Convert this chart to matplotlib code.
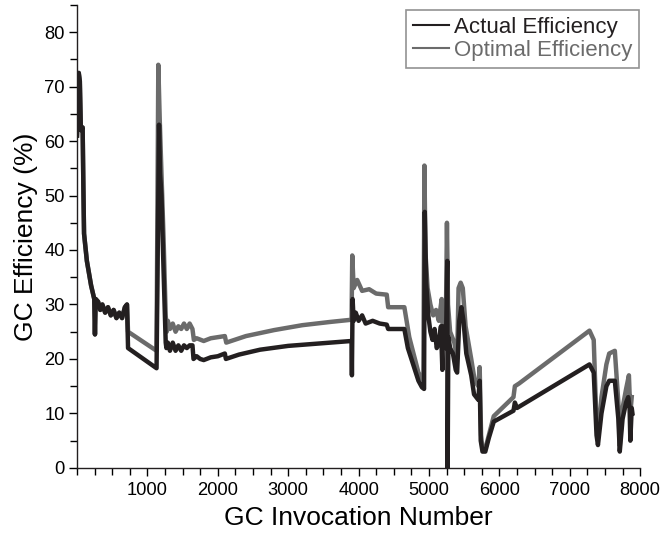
import matplotlib
matplotlib.use("Agg")
import matplotlib.pyplot as plt
from matplotlib.ticker import MultipleLocator, FixedLocator

plt.rcParams['font.family'] = ['Liberation Sans', 'DejaVu Sans']

actual_x = [0, 15, 25, 40, 55, 80, 90, 100, 140, 200, 245, 255, 265, 300, 330, 360, 400, 440, 480,
            520, 560, 600, 640, 680, 710, 725, 1130, 1165, 1180, 1200, 1230, 1260, 1270, 1290, 1320,
            1360, 1400, 1440, 1480, 1520, 1560, 1600, 1640, 1655, 1700, 1750, 1800, 1900, 2000, 2100,
            2115, 2300, 2600, 3000, 3400, 3900, 3905, 3915, 3930, 3960, 4000, 4050, 4100, 4200, 4300,
            4400, 4420, 4650, 4700, 4850, 4900, 4930, 4940, 4960, 4990, 5020, 5050, 5080, 5110, 5140,
            5170, 5190, 5200, 5240, 5260, 5265, 5275, 5300, 5340, 5380, 5400, 5430, 5460, 5490, 5530,
            5600, 5640, 5700, 5720, 5735, 5760, 5800, 5850, 5920, 6200, 6220, 6250, 7280, 7340, 7380,
            7400, 7450, 7520, 7560, 7640, 7690, 7710, 7750, 7800, 7830, 7850, 7860, 7880, 7890]
actual_y = [61, 66, 72.5, 71, 62, 62.5, 52, 43, 38, 33.5, 31, 24.5, 31, 30.5, 29, 30, 28.5, 29.5, 28,
            29, 27.5, 28.5, 27.5, 29.5, 30, 22, 18.3, 63, 54, 50, 36, 23, 22, 23, 21.5,
            23, 21.5, 22.5, 21.5, 22.5, 22, 22.5, 22.5, 20, 20.5, 20, 19.8, 20.3, 20.5, 21,
            20, 20.8, 21.7, 22.4, 22.8, 23.3, 17, 31, 27, 28.5, 27, 28, 26.5, 27, 26.5,
            26.3, 25.5, 25.5, 22, 16, 14.8, 14.5, 47, 34, 28, 25, 23.5, 25.5, 22, 23,
            26, 18, 26, 22, 38, 0, 24, 22, 21, 18, 17.5, 27, 29.5, 27, 21,
            17, 13.5, 12.5, 16, 5, 3, 3, 5.5, 8.5, 10.5, 12, 11, 19, 17.5, 6,
            4.2, 10, 15, 16, 16, 9, 3, 9, 12, 13, 11, 5, 11, 10]

optimal_x = [0, 15, 25, 40, 55, 80, 90, 100, 140, 200, 245, 255, 265, 300, 330, 360, 400, 440, 480,
             520, 560, 600, 640, 680, 710, 725, 1130, 1155, 1175, 1190, 1210, 1230, 1260, 1275, 1290,
             1320, 1360, 1400, 1440, 1480, 1520, 1560, 1600, 1640, 1660, 1700, 1800, 1900, 2000, 2100,
             2120, 2400, 2800, 3200, 3600, 3900, 3910, 3930, 3980, 4050, 4150, 4250, 4400, 4420, 4650,
             4720, 4850, 4920, 4935, 4950, 4980, 5020, 5060, 5100, 5140, 5180, 5200, 5240, 5255, 5270,
             5300, 5360, 5400, 5420, 5450, 5480, 5520, 5600, 5650, 5700, 5720, 5740, 5760, 5800, 5850,
             5920, 6200, 6220, 6280, 7280, 7340, 7380, 7400, 7450, 7520, 7560, 7640, 7690, 7710, 7750,
             7800, 7840, 7860, 7880]
optimal_y = [61, 66, 72.5, 71, 62, 62.5, 52, 43, 38, 33.5, 31, 24.5, 31, 30.5, 29, 30, 28.5, 29.5, 28,
             29, 27.5, 28.5, 27.5, 29.5, 30, 25, 21.5, 74, 64, 58, 50, 42, 28, 25, 27,
             25.5, 26.5, 25, 26, 25.5, 26.5, 25.5, 26.5, 25.5, 23.5, 23.8, 23.3, 23.8, 24, 24.2,
             23, 24.2, 25.3, 26.2, 26.8, 27.2, 39, 33, 34.5, 32.5, 32.8, 32, 31.8, 29.5, 29.5,
             24, 17.5, 16, 55.5, 39.5, 33, 30, 28, 29, 27, 31, 24, 27, 45, 30,
             25, 23, 20, 33, 34, 33, 26, 20, 16, 15, 18.5, 6, 3.5, 3.5, 6,
             9.5, 13, 15, 15.5, 25.2, 23.5, 8, 5.5, 13, 19, 21, 21.5, 12, 4, 11,
             14.5, 17, 10, 13]

x_ticks = [1000, 2000, 3000, 4000, 5000, 6000, 7000, 8000]
y_ticks = [0, 10, 20, 30, 40, 50, 60, 70, 80]

black = '#231f20'
gray = '#6b6b6b'

fig = plt.figure(figsize=(6.61, 5.36), dpi=100)
ax = fig.add_axes([0.1165, 0.127, 0.852, 0.864])

ax.plot(optimal_x, optimal_y, color=gray, lw=3.2, label='Optimal Efficiency',
        solid_joinstyle='round')
ax.plot(actual_x, actual_y, color=black, lw=3.2, label='Actual Efficiency',
        solid_joinstyle='round')

ax.set_xlim(0, 8000)
ax.set_ylim(0, 85)
ax.xaxis.set_major_locator(FixedLocator(x_ticks))
ax.xaxis.set_minor_locator(MultipleLocator(250))
ax.yaxis.set_major_locator(FixedLocator(y_ticks))
ax.yaxis.set_minor_locator(MultipleLocator(5))
ax.tick_params(axis='both', which='major', length=6, width=1, labelsize=13.2, direction='out')
ax.tick_params(axis='both', which='minor', length=5, width=1, direction='out')
ax.tick_params(axis='x', pad=4)
ax.tick_params(axis='y', pad=3)

for s in ['top', 'right']:
    ax.spines[s].set_visible(False)
for s in ['left', 'bottom']:
    ax.spines[s].set_linewidth(1)
    ax.spines[s].set_color('#231f20')

ax.set_xlabel('GC Invocation Number', fontsize=19, labelpad=5)
ax.set_ylabel('GC Efficiency (%)', fontsize=19, labelpad=4)

handles, labels = ax.get_legend_handles_labels()
leg = ax.legend(handles[::-1], labels[::-1], loc='upper right', fontsize=16,
                frameon=True, fancybox=False, edgecolor='#777777', handlelength=1.6,
                handletextpad=0.25, borderpad=0.3, labelspacing=0.1,
                labelcolor='linecolor', bbox_to_anchor=(1.018, 1.012))
leg.get_frame().set_linewidth(1.2)
for ln in leg.get_lines():
    ln.set_linewidth(1.5)

fig.savefig('out.png', dpi=100)
